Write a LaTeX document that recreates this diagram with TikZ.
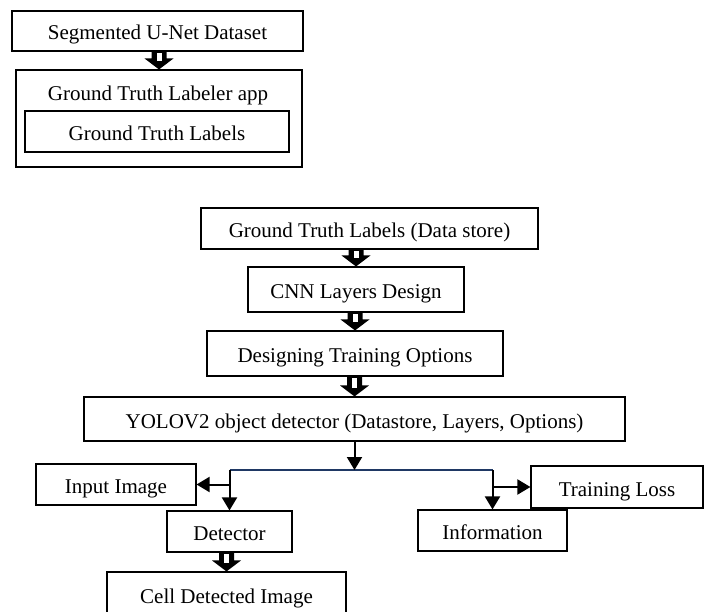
\documentclass[tikz,border=0pt]{standalone}
\usepackage{fontspec}
\setmainfont{Liberation Serif}
\usetikzlibrary{arrows.meta}
\usetikzlibrary{calc}

% hollow block arrow from the bottom of #1 to the top of #2
\newcommand{\fatarrow}[2]{%
	\coordinate (fa-end) at (#2.north);
	\coordinate (fa-start) at (#2.north |- #1.south);
	\fill ($(fa-start)+(-7.5,0)$) -- ($(fa-start)+(7.5,0)$) -- ($(fa-end)+(7.5,-11)$) -- ($(fa-end)+(14.5,-11)$)
		-- (fa-end) -- ($(fa-end)+(-14.5,-11)$) -- ($(fa-end)+(-7.5,-11)$) -- cycle;
	\fill[white] ($(fa-start)+(-2.5,1.5)$) rectangle ($(fa-end)+(2.5,-8)$);
}

\begin{document}
\begin{tikzpicture}[
				x=1pt, y=-1pt,
				box/.style={draw, line width=1.1pt, inner sep=0pt, text height=18pt, text depth=0pt, font=\fontsize{21}{25}\selectfont},
				plain/.style={inner sep=0pt, text height=18pt, text depth=0pt, font=\fontsize{21}{25}\selectfont},
				arrow/.style={line width=2pt, -{Triangle[length=13pt, width=15pt]}},
				bus/.style={line width=1.6pt, color={rgb,255:red,31;green,56;blue,100}},
			]
				\useasboundingbox (0,0) rectangle (709,612);
				
				% labelling part
				\node (seg) [box, minimum width=291pt, minimum height=40pt] at (157.5,31) {Segmented U-Net Dataset};
				\node (app) [box, minimum width=286pt, minimum height=97pt] at (159,118.5) {};
				\node (apptitle) [plain] at (158,92) {Ground Truth Labeler app};
				\node (gtl) [box, minimum width=264pt, minimum height=41pt] at (157,131.5) {Ground Truth Labels};
				\fatarrow{seg}{app}
				
				% training part
				\node (gtds) [box, minimum width=337pt, minimum height=41pt] at (369.5,228.5) {Ground Truth Labels (Data store)};
				\node (cnn) [box, minimum width=216pt, minimum height=45pt] at (356,289.5) {CNN Layers Design};
				\node (opt) [box, minimum width=296pt, minimum height=45pt] at (355,353.5) {Designing Training Options};
				\node (yolo) [box, minimum width=541pt, minimum height=44pt] at (354.5,419) {YOLOV2 object detector (Datastore, Layers, Options)};
				\fatarrow{gtds}{cnn}
				\fatarrow{cnn}{opt}
				\fatarrow{opt}{yolo}
				
				% outputs
				\node (inp) [box, minimum width=160pt, minimum height=41pt] at (116,484.5) {Input Image};
				\node (det) [box, minimum width=125pt, minimum height=41pt] at (229.5,531.5) {Detector};
				\node (cell) [box, minimum width=239pt, minimum height=45pt] at (226.5,594.5) {Cell Detected Image};
				\node (loss) [box, minimum width=172pt, minimum height=42pt] at (617,487) {Training Loss};
				\node (info) [box, minimum width=149pt, minimum height=41pt] at (492.5,530.5) {Information};
				\fatarrow{det}{cell}
				
				\coordinate (jl) at (det.north |- 0,470);
				\coordinate (jr) at (info.north |- 0,470);
				\draw[bus] (jl) -- (jr);
				\draw[arrow] (yolo.south) -- (yolo.south |- jl);
				\draw[arrow] (jl) -- (det.north);
				\draw[arrow] (jl |- inp.east) -- (inp.east);
				\draw[arrow] (jr) -- (info.north);
				\draw[arrow] (jr |- loss.west) -- (loss.west);
			\end{tikzpicture}
\end{document}
